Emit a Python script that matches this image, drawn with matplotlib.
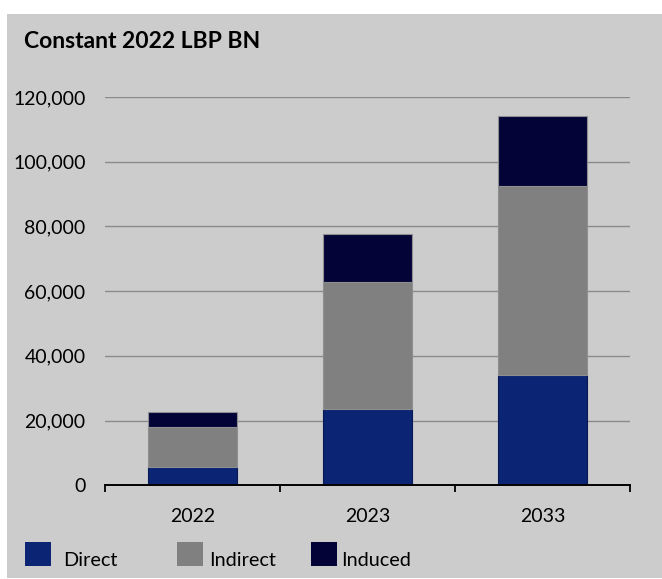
import matplotlib.pyplot as plt
from matplotlib.patches import Rectangle
from matplotlib.ticker import FuncFormatter

plt.rcParams['font.family'] = ['Lato', 'DejaVu Sans']

years = ['2022', '2023', '2033']
direct = [5600, 23700, 34000]
indirect = [12300, 39100, 58500]
induced = [4700, 14800, 21700]

series = ['Direct', 'Indirect', 'Induced']
colors = ['#0b2473', '#808080', '#030338']
edges = ['#0a1a55', '#8f8f8f', '#8f8f8f']

fig = plt.figure(figsize=(6.62, 5.79), dpi=100, facecolor='white')
# grey panel behind everything
fig.patches.append(Rectangle((7/662, 1/579), 1 - 7/662, 1 - 15/579,
                             transform=fig.transFigure, facecolor='#cccccc',
                             edgecolor='none', zorder=-10))

ax = fig.add_axes([105/662, 1 - 485.3/579, 525/662, 388.3/579])
ax.set_facecolor('none')

x = range(len(years))
bottom = [0, 0, 0]
for name, vals, c, ec in zip(series, [direct, indirect, induced], colors, edges):
    ax.bar(x, vals, width=0.51, bottom=bottom, color=c, edgecolor=ec,
           linewidth=0.8, label=name, zorder=3)
    bottom = [b + v for b, v in zip(bottom, vals)]

ax.set_xlim(-0.5, 2.5)
ax.set_ylim(0, 120000)
ax.set_yticks(range(0, 120001, 20000))
ax.yaxis.set_major_formatter(FuncFormatter(lambda v, p: f'{int(v):,}'))
ax.set_xticks(list(x))
ax.set_xticklabels(years)
ax.set_xticks([-0.5, 0.5, 1.5, 2.5], minor=True)
ax.tick_params(axis='x', which='major', length=0, pad=16, labelsize=14)
ax.tick_params(axis='x', which='minor', length=5, width=1.3, color='black')
ax.tick_params(axis='y', length=0, pad=14, labelsize=14)

ax.grid(axis='y', color='#8a8a8a', linewidth=1.0, zorder=0)
for s in ['left', 'right', 'top']:
    ax.spines[s].set_visible(False)
ax.spines['bottom'].set_linewidth(1.4)
ax.spines['bottom'].set_zorder(4)

fig.text(24/662, 1 - 42/579, 'Constant 2022 LBP BN', fontsize=16.5,
         fontweight='bold', va='center', ha='left')

# legend boxes along the bottom
box_x = [25, 177, 311]
text_x = [63, 209, 341]
for name, c, bx, tx in zip(series, colors, box_x, text_x):
    fig.patches.append(Rectangle((bx/662, 1 - 566/579), 26/662, 24/579,
                                 transform=fig.transFigure, facecolor=c,
                                 edgecolor='none', zorder=2))
    fig.text(tx/662, 1 - 561/579, name, fontsize=14.3, va='center', ha='left')

fig.savefig('out.png', dpi=100, facecolor='white')
